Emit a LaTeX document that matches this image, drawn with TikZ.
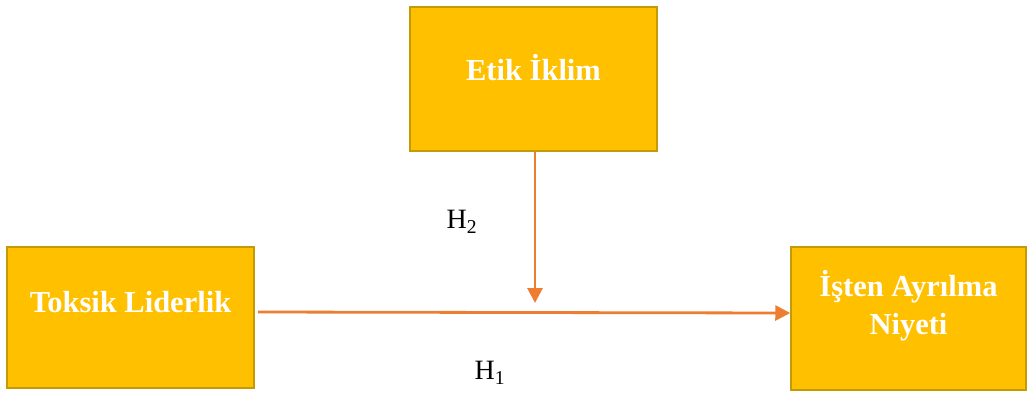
\documentclass[tikz,border=0pt]{standalone}
\usepackage{fontspec}
\setmainfont{Liberation Serif}
\usetikzlibrary{arrows.meta}
\definecolor{boxfill}{HTML}{FFC000}
\definecolor{boxline}{HTML}{C49A06}
\definecolor{arrowc}{HTML}{ED7D31}
\begin{document}
\begin{tikzpicture}[x=1pt,y=-1pt,
  varbox/.style={draw=boxline, line width=1.5pt, fill=boxfill, inner sep=0pt},
  boxtext/.style={text=white, font=\fontsize{30.5}{38}\selectfont\bfseries, align=center},
  link/.style={draw=arrowc, line width=2.8pt, -{Triangle[length=15pt,width=15pt]}},
  hlabel/.style={font=\fontsize{28}{30}\selectfont}]
\useasboundingbox (0,0) rectangle (1028,392);
\node[varbox, minimum width=247pt, minimum height=144pt] (etik) at (533.5,79) {};
\node[boxtext] (etikt) at (533.5,68) {Etik İklim};
\node[varbox, minimum width=247pt, minimum height=141pt] (toksik) at (130.5,317.5) {};
\node[boxtext] (toksikt) at (130.5,302) {Toksik Liderlik};
\node[varbox, minimum width=235pt, minimum height=143pt] (isten) at (908.5,318.5) {};
\node[boxtext] (istent) at (908.5,306) {İşten Ayrılma\\Niyeti};
\coordinate (mid) at (535,303);
\draw[link] (258,312) -- (isten.west |- 0,313);
\draw[link] (etik.south -| mid) -- (mid);
\node[hlabel] (h2) at (462,222) {H\textsubscript{2}};
\node[hlabel] (h1) at (490,373) {H\textsubscript{1}};
\end{tikzpicture}
\end{document}
